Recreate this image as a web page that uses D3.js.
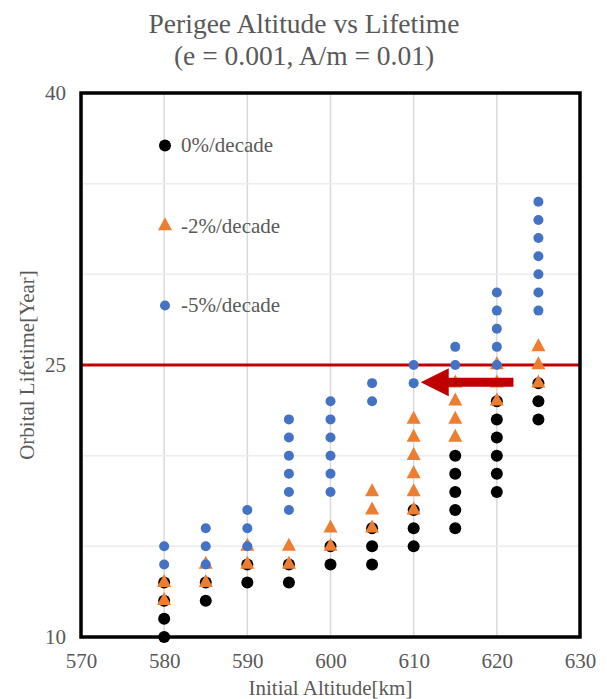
<!DOCTYPE html>
<html>
<head>
<meta charset="utf-8">
<script src="https://cdn.jsdelivr.net/npm/d3@7/dist/d3.min.js"></script>
<style>
  html, body { margin: 0; padding: 0; background: #ffffff; }
  svg { display: block; }
  text { font-family: "Liberation Serif", "Times New Roman", serif; fill: #595959; }
</style>
</head>
<body>
<svg id="chart" width="607" height="699"></svg>
<script>
// ---------- data ----------
const seriesNames = ["0%/decade", "-2%/decade", "-5%/decade"];
const seriesColors = ["#000000", "#ED7D31", "#4472C4"];
const seriesShapes = ["circle", "triangle", "circle"];

// [initial altitude km, orbital lifetime years]
const zeroPerDecade = [
  [580, 10], [580, 11], [580, 12], [580, 13],
  [585, 12], [585, 13],
  [590, 13], [590, 14],
  [595, 13], [595, 14],
  [600, 14], [600, 15],
  [605, 14], [605, 15], [605, 16],
  [610, 15], [610, 16], [610, 17],
  [615, 16], [615, 17], [615, 18], [615, 19], [615, 20],
  [620, 18], [620, 19], [620, 20], [620, 21], [620, 22], [620, 23],
  [625, 22], [625, 23], [625, 24]
];
const minus2PerDecade = [
  [580, 12], [580, 13],
  [585, 13], [585, 14],
  [590, 14], [590, 15],
  [595, 14], [595, 15],
  [600, 15], [600, 16],
  [605, 16], [605, 17], [605, 18],
  [610, 17], [610, 18], [610, 19], [610, 20], [610, 21], [610, 22],
  [615, 21], [615, 22], [615, 23], [615, 24],
  [620, 23], [620, 24], [620, 25],
  [625, 24], [625, 25], [625, 26]
];
const minus5PerDecade = [
  [580, 14], [580, 15],
  [585, 14], [585, 15], [585, 16],
  [590, 15], [590, 16], [590, 17],
  [595, 17], [595, 18], [595, 19], [595, 20], [595, 21], [595, 22],
  [600, 18], [600, 19], [600, 20], [600, 21], [600, 22], [600, 23],
  [605, 23], [605, 24],
  [610, 24], [610, 25],
  [615, 25], [615, 26],
  [620, 25], [620, 26], [620, 27], [620, 28], [620, 29],
  [625, 28], [625, 29], [625, 30], [625, 31], [625, 32], [625, 33], [625, 34]
];
const seriesData = [zeroPerDecade, minus2PerDecade, minus5PerDecade];

const xTicks = [570, 580, 590, 600, 610, 620, 630];
const yTickLabels = [10, 25, 40];
const yGridValues = [15, 20, 30, 35];
const limitYears = 25;
// annotation arrow (data units): tail x, tip x, y
const arrowTail = 622;
const arrowTip = 610.85;
const arrowY = 24.05;

const titleLines = ["Perigee Altitude vs Lifetime", "(e = 0.001, A/m = 0.01)"];
const xTitle = "Initial Altitude[km]";
const yTitle = "Orbital Lifetime[Year]";

// ---------- layout ----------
const svg = d3.select("#chart");
const plot = { left: 81, right: 580, top: 93, bottom: 637 };

const x = d3.scaleLinear().domain([570, 630]).range([plot.left, plot.right]);
const y = d3.scaleLinear().domain([10, 40]).range([plot.bottom, plot.top]);

// title
svg.append("text")
  .attr("x", 304).attr("y", 33)
  .attr("text-anchor", "middle")
  .style("font-size", "27.5px")
  .text(titleLines[0]);
svg.append("text")
  .attr("x", 304).attr("y", 65)
  .attr("text-anchor", "middle")
  .style("font-size", "27.5px")
  .text(titleLines[1]);

// gridlines
const grid = svg.append("g");
grid.selectAll("line.v").data(xTicks.slice(1, -1)).enter().append("line")
  .attr("x1", d => x(d)).attr("x2", d => x(d))
  .attr("y1", plot.top).attr("y2", plot.bottom)
  .attr("stroke", "#d9d9d9").attr("stroke-width", 1.5);
grid.selectAll("line.h").data(yGridValues).enter().append("line")
  .attr("x1", plot.left).attr("x2", plot.right)
  .attr("y1", d => y(d)).attr("y2", d => y(d))
  .attr("stroke", "#ececec").attr("stroke-width", 1.5);

// x axis labels
const xAxis = d3.axisBottom(x).tickValues(xTicks).tickSize(0).tickPadding(16).tickFormat(d3.format("d"));
const gx = svg.append("g").attr("transform", `translate(0,${plot.bottom})`).call(xAxis);
gx.select(".domain").remove();
gx.selectAll("text").style("font-size", "21px").style("fill", "#595959")
  .style("font-family", "'Liberation Serif', serif");

// y axis labels
const yAxis = d3.axisLeft(y).tickValues(yTickLabels).tickSize(0).tickPadding(15).tickFormat(d3.format("d"));
const gy = svg.append("g").attr("transform", `translate(${plot.left},0)`).call(yAxis);
gy.select(".domain").remove();
gy.selectAll("text").style("font-size", "21px").style("fill", "#595959")
  .style("font-family", "'Liberation Serif', serif");

// axis titles
svg.append("text")
  .attr("x", (plot.left + plot.right) / 2).attr("y", 695)
  .attr("text-anchor", "middle")
  .style("font-size", "21px")
  .text(xTitle);
svg.append("text")
  .attr("transform", `translate(34,${(plot.top + plot.bottom) / 2}) rotate(-90)`)
  .attr("text-anchor", "middle")
  .style("font-size", "21px")
  .text(yTitle);

// 25-year limit line
svg.append("line")
  .attr("x1", plot.left).attr("x2", plot.right)
  .attr("y1", y(limitYears)).attr("y2", y(limitYears))
  .attr("stroke", "#C00000").attr("stroke-width", 3);

// marker drawing
function triPath(w, h) {
  // centroid-centred triangle
  return `M0,${-2 * h / 3}L${w / 2},${h / 3}L${-w / 2},${h / 3}Z`;
}
const markerSize = [6, 7, 5]; // circle radius / triangle half-width
function drawMarker(g, shape, color, i, cx, cy) {
  if (shape === "circle") {
    g.append("circle").attr("cx", cx).attr("cy", cy).attr("r", markerSize[i]).attr("fill", color);
  } else {
    g.append("path").attr("d", triPath(14, 13))
      .attr("transform", `translate(${cx},${cy})`).attr("fill", color);
  }
}

seriesData.forEach((data, i) => {
  const g = svg.append("g");
  if (seriesShapes[i] === "circle") {
    g.selectAll("circle").data(data).enter().append("circle")
      .attr("cx", d => x(d[0])).attr("cy", d => y(d[1]))
      .attr("r", markerSize[i]).attr("fill", seriesColors[i]);
  } else {
    g.selectAll("path").data(data).enter().append("path")
      .attr("d", triPath(14, 13))
      .attr("transform", d => `translate(${x(d[0])},${y(d[1])})`)
      .attr("fill", seriesColors[i]);
  }
});

// arrow annotation
{
  const tx = x(arrowTip), ex = x(arrowTail), cy = y(arrowY);
  const headLen = 28, headHalf = 14, shaftHalf = 4.5;
  const p = `M${tx},${cy}L${tx + headLen},${cy - headHalf}L${tx + headLen},${cy - shaftHalf}` +
            `L${ex},${cy - shaftHalf}L${ex},${cy + shaftHalf}L${tx + headLen},${cy + shaftHalf}` +
            `L${tx + headLen},${cy + headHalf}Z`;
  svg.append("path").attr("d", p).attr("fill", "#C00000");
}

// plot border
svg.append("rect")
  .attr("x", plot.left).attr("y", plot.top)
  .attr("width", plot.right - plot.left).attr("height", plot.bottom - plot.top)
  .attr("fill", "none").attr("stroke", "#000").attr("stroke-width", 3.5);

// legend
const legendY = [145.5, 226, 305.5];
const leg = svg.append("g");
seriesNames.forEach((name, i) => {
  drawMarker(leg, seriesShapes[i], seriesColors[i], i, 165, legendY[i]);
  leg.append("text")
    .attr("x", 181).attr("y", legendY[i] + 6.5)
    .style("font-size", "21px")
    .text(name);
});
</script>
</body>
</html>
